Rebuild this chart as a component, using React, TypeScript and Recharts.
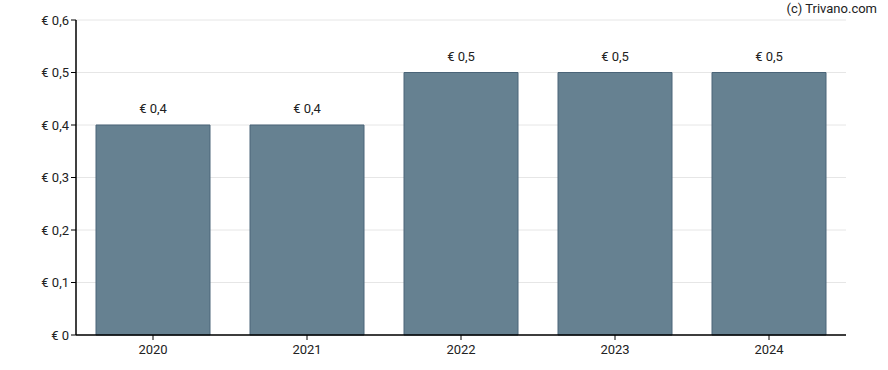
import { BarChart, Bar, XAxis, YAxis, CartesianGrid, LabelList } from 'recharts'

const years = ['2020', '2021', '2022', '2023', '2024']
const dividends = [0.4, 0.4, 0.5, 0.5, 0.5]
const yTicks = [0, 0.1, 0.2, 0.3, 0.4, 0.5, 0.6]

const data = years.map((year, i) => ({ year, value: dividends[i] }))

const euro = (v: number) => (v === 0 ? '€ 0' : `€ ${v.toFixed(1).replace('.', ',')}`)

export default function App() {
  return (
    <div style={{ position: 'absolute', left: 0, top: 0, width: 888, height: 370, fontFamily: 'Roboto, Arial, sans-serif', background: '#fff' }}>
      <div style={{ position: 'absolute', right: 11, top: 1, fontSize: 13, color: '#222' }}>(c) Trivano.com</div>
      <BarChart width={888} height={370} data={data} margin={{ top: 20, right: 42, bottom: 5, left: 0 }}>
        <CartesianGrid stroke="#e6e6e6" vertical={false} />
        <XAxis
          dataKey="year"
          height={30}
          tick={{ fill: '#222', fontSize: 13 }}
          tickLine={{ stroke: '#000' }}
          tickSize={5}
          tickMargin={5}
          axisLine={{ stroke: '#000', strokeWidth: 1.5 }}
        />
        <YAxis
          width={76}
          domain={[0, 0.6]}
          ticks={yTicks}
          tickFormatter={euro}
          tick={{ fill: '#222', fontSize: 13 }}
          tickLine={{ stroke: '#000' }}
          tickSize={5}
          axisLine={{ stroke: '#000', strokeWidth: 1.5 }}
        />
        <Bar dataKey="value" fill="#668191" stroke="#4a6478" strokeWidth={1} barSize={114} isAnimationActive={false}>
          <LabelList dataKey="value" position="top" offset={12} formatter={(v: any) => euro(Number(v))} style={{ fill: '#222', fontSize: 13 }} />
        </Bar>
      </BarChart>
    </div>
  )
}
